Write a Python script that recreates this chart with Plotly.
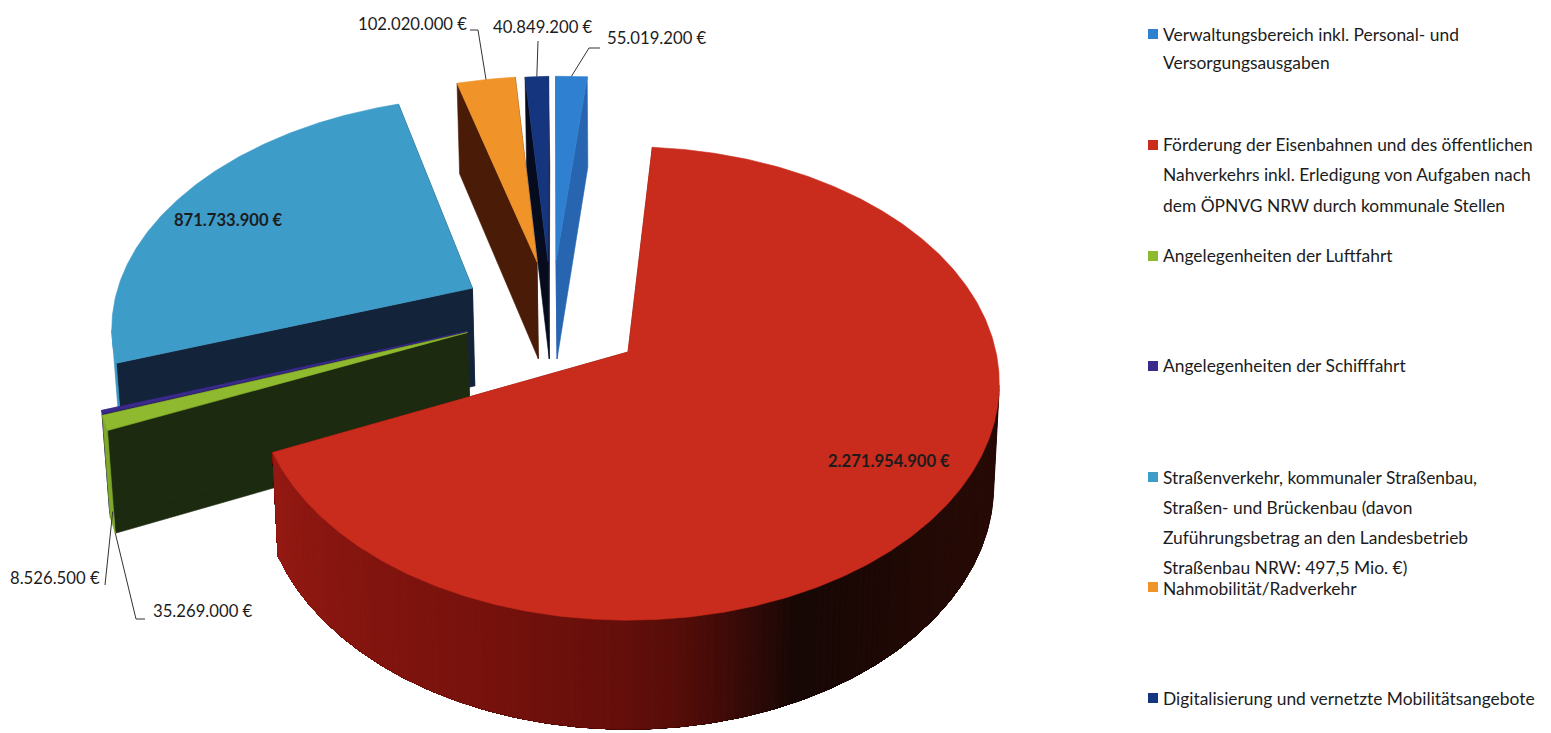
import numpy as np
import plotly.graph_objects as go

# Verkehrshaushalt: budget lines in euro, in pie order (clockwise)
CATEGORIES = [
    "Verwaltungsbereich",
    "Eisenbahnen und ÖPNV",
    "Luftfahrt",
    "Schifffahrt",
    "Straßenverkehr",
    "Nahmobilität/Radverkehr",
    "Digitalisierung",
]
VALUES = [55019200, 2271954900, 35269000, 8526500, 871733900, 102020000, 40849200]
VALUE_LABELS = [
    "55.019.200 €", "2.271.954.900 €", "35.269.000 €", "8.526.500 €",
    "871.733.900 €", "102.020.000 €", "40.849.200 €",
]
TOP_COLORS = ["#2f80d0", "#c92b1c", "#8fb92f", "#3a2a8c", "#3e9cc9", "#f0942a", "#16357f"]
CUT_COLORS = ["#2765b0", "#7a130e", "#1c2a10", "#2a1f66", "#12233a", "#4a1c08", "#060b1e"]
RIM_COLORS = ["#2f80d0", None, "#7fa82a", "#3a2a8c", "#3a96c2", "#f0942a", "#16357f"]

# Sideways and backwards offset of each slice on the pie's plane (radius = 1)
EXPLODE_X = [-0.2063, 0.0, -0.4408, -0.4408, -0.4387, -0.2607, -0.229]
EXPLODE_Y = [0.408, 0.0, 0.085, 0.09, 0.285, 0.408, 0.408]

LEGEND_ENTRIES = [
    (0, 34, [(34, "Verwaltungsbereich inkl. Personal- und"), (62, "Versorgungsausgaben")]),
    (1, 145, [(144, "Förderung der Eisenbahnen und des öffentlichen"),
              (174, "Nahverkehrs inkl. Erledigung von Aufgaben nach"),
              (205, "dem ÖPNVG NRW durch kommunale Stellen")]),
    (2, 256, [(255, "Angelegenheiten der Luftfahrt")]),
    (3, 366, [(365, "Angelegenheiten der Schifffahrt")]),
    (4, 477, [(477, "Straßenverkehr, kommunaler Straßenbau,"),
              (507, "Straßen- und Brückenbau (davon"),
              (537, "Zuführungsbetrag an den Landesbetrieb"),
              (567, "Straßenbau NRW: 497,5 Mio. €)")]),
    (5, 587, [(588, "Nahmobilität/Radverkehr")]),
    (6, 698, [(698, "Digitalisierung und vernetzte Mobilitätsangebote")]),
]

# Camera used to flatten the pie onto the page
FIRST_BEARING = -1.56
CENTER_X, CENTER_Y = 628.0, 352.0
SCALE_X, SCALE_Y = 368.0, 232.5
DEPTH = 0.133
WALL = 100.0
LEAN = 0.015
FONT = "Lato"
INK = "#1c1c1c"


def project(x, y, drop=0.0):
    """Plane coordinates to page pixels; drop is the fraction of the wall height."""
    x, y = np.asarray(x, float), np.asarray(y, float)
    w = 1 + DEPTH * y
    return (CENTER_X + SCALE_X * x / w * (1 - LEAN * drop),
            CENTER_Y - SCALE_Y * y / w + drop * WALL / w ** 0.6)


def polygon(fig, px, py, color, name, edge=0.6):
    fig.add_trace(go.Scatter(
        x=np.append(px, px[0]), y=np.append(py, py[0]), mode="lines", fill="toself",
        fillcolor=color, line=dict(color=color, width=edge), hoverinfo="name",
        name=name, showlegend=False,
    ))


def rim_point(i, bearing, drop=0.0):
    r = np.radians(bearing)
    return project(EXPLODE_X[i] + np.sin(r), EXPLODE_Y[i] + np.cos(r), drop)


spans = 360.0 * np.array(VALUES) / sum(VALUES)
starts = FIRST_BEARING + np.concatenate([[0], np.cumsum(spans)[:-1]])
ends = starts + spans

# Shading of the large slice's outer wall, going round by bearing
SHADE_BEARING = [60, 100, 130, 150, 156, 165, 172, 180, 200, 225, 246]
SHADE_R = [40, 42, 36, 26, 24, 60, 85, 100, 120, 135, 150]
SHADE_G = [12, 12, 10, 8, 8, 11, 13, 15, 18, 22, 27]
SHADE_B = [8, 8, 6, 5, 5, 8, 9, 11, 13, 16, 20]


def red_wall_color(b):
    return "rgb(%d,%d,%d)" % (np.interp(b, SHADE_BEARING, SHADE_R),
                              np.interp(b, SHADE_BEARING, SHADE_G),
                              np.interp(b, SHADE_BEARING, SHADE_B))


fig = go.Figure()

# Back-to-front painting: each later slice covers the walls of the earlier ones
for i in [0, 6, 5, 4, 3, 2, 1]:
    name = CATEGORIES[i]
    a = np.radians(np.linspace(starts[i], ends[i], max(8, int(spans[i] * 2))))
    ox, oy = EXPLODE_X[i], EXPLODE_Y[i]
    rx, ry = ox + np.sin(a), oy + np.cos(a)

    for edge in (0, -1):
        t0x, t0y = project([ox, rx[edge]], [oy, ry[edge]])
        t1x, t1y = project([ox, rx[edge]], [oy, ry[edge]], 1.0)
        polygon(fig, np.r_[t0x, t1x[::-1]], np.r_[t0y, t1y[::-1]], CUT_COLORS[i], name)

    # Only the part of the outer wall whose normal points at the camera is drawn
    front = (-ox * np.sin(a) - (1 / DEPTH + oy) * np.cos(a)) > 1
    fa, fx, fy = a[front], rx[front], ry[front]
    if len(fa) >= 2:
        if RIM_COLORS[i] is None:
            # Each band runs on to the slice's end, so the next band overlaps it without a seam
            for k in range(0, len(fa) - 1, 2):
                ux, uy = project(fx[k:], fy[k:])
                lx, ly = project(fx[k:], fy[k:], 1.0)
                polygon(fig, np.r_[ux, lx[::-1]], np.r_[uy, ly[::-1]],
                        red_wall_color(np.degrees(fa[k])), name, edge=0.3)
        else:
            ux, uy = project(fx, fy)
            lx, ly = project(fx, fy, 1.0)
            polygon(fig, np.r_[ux, lx[::-1]], np.r_[uy, ly[::-1]], RIM_COLORS[i], name)

    tx, ty = project(np.r_[ox, rx], np.r_[oy, ry])
    polygon(fig, tx, ty, TOP_COLORS[i], name)

# Leader lines: slice end, then the elbow beside its label
mids = (starts + ends) / 2
LEADERS = [
    (5, 0.0, 0.0, [(478, 30), (470, 30)]),
    (6, 0.0, 0.0, [(538, 41)]),
    (0, 0.0, 0.0, [(589, 48), (600, 48)]),
    (3, 0.85, -3.0, [(105, 585)]),
    (2, 1.0, -1.9, [(136, 619), (145, 619)]),
]
for i, drop, shift, elbows in LEADERS:
    sx, sy = rim_point(i, mids[i] + shift, drop)
    fig.add_trace(go.Scatter(
        x=[float(sx)] + [e[0] for e in elbows], y=[float(sy)] + [e[1] for e in elbows],
        mode="lines", line=dict(color="#333333", width=1), hoverinfo="skip", showlegend=False,
    ))

# Legend keys
fig.add_trace(go.Scatter(
    x=[1153] * len(LEGEND_ENTRIES), y=[e[1] for e in LEGEND_ENTRIES], mode="markers",
    marker=dict(symbol="square", size=10, color=[TOP_COLORS[e[0]] for e in LEGEND_ENTRIES]),
    text=[CATEGORIES[e[0]] for e in LEGEND_ENTRIES], hoverinfo="text", showlegend=False,
))

annotations = []
for _, _, lines in LEGEND_ENTRIES:
    for y, text in lines:
        annotations.append(dict(x=1161, y=y, text=text, xanchor="left", yanchor="middle",
                                showarrow=False, font=dict(family=FONT, size=17.4, color=INK)))

# Value labels: slice index, left edge of the text, vertical centre
LABEL_POS = [(0, 605, 38), (1, 826, 461), (2, 151, 611), (3, 8, 578),
             (4, 172, 220), (5, 356, 24), (6, 491, 27)]
INNER_LABELS = {1, 4}
for i, x, y in LABEL_POS:
    bold = i in INNER_LABELS
    text = f"<b>{VALUE_LABELS[i]}</b>" if bold else VALUE_LABELS[i]
    annotations.append(dict(x=x, y=y, text=text, xanchor="left", yanchor="middle",
                            showarrow=False,
                            font=dict(family=FONT, size=16.6 if bold else 16.7, color=INK)))

fig.update_layout(
    width=1551, height=733, margin=dict(l=0, r=0, t=0, b=0),
    paper_bgcolor="white", plot_bgcolor="white", showlegend=False,
    xaxis=dict(range=[0, 1551], visible=False, fixedrange=True),
    yaxis=dict(range=[733, 0], visible=False, fixedrange=True),
    annotations=annotations,
)
fig.write_html("out.html", config={"displayModeBar": False})
